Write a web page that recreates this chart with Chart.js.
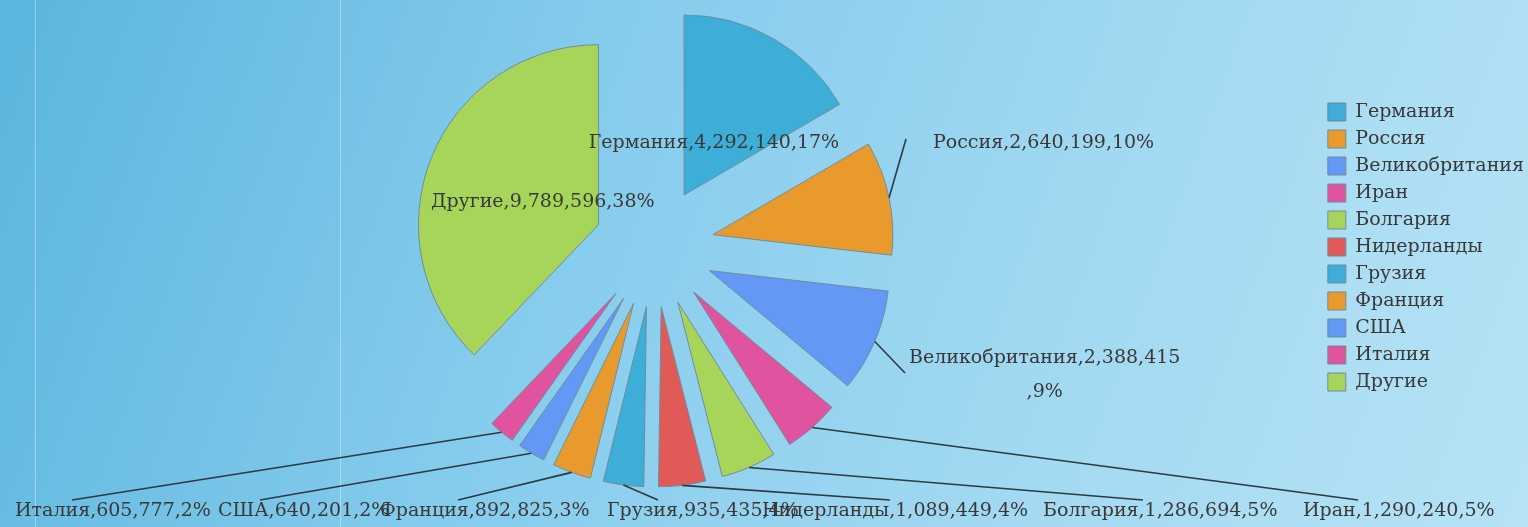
<!DOCTYPE html>
<html><head><meta charset="utf-8">
<script src="https://cdn.jsdelivr.net/npm/chart.js@4.4.0/dist/chart.umd.min.js"></script>
<style>
html,body{margin:0;padding:0;width:1528px;height:527px;overflow:hidden}
body{background:linear-gradient(110deg,#5bb5de 0%,#84cbec 35%,#a3d9f2 70%,#b6e3f6 100%);position:relative}
.vl{position:absolute;top:0;bottom:0;width:1px;background:rgba(255,255,255,0.35)}
#wrap{position:absolute;left:0;top:0;width:1528px;height:527px}
</style></head><body>
<div class="vl" style="left:35px"></div><div class="vl" style="left:340px"></div>
<div id="wrap"><canvas id="c" width="1528" height="527"></canvas></div>
<script>
const categories = ['Германия','Россия','Великобритания','Иран','Болгария','Нидерланды','Грузия','Франция','США','Италия','Другие'];
const values = [4292140, 2640199, 2388415, 1290240, 1286694, 1089449, 935435, 892825, 640201, 605777, 9789596];
const colors = ['#3daed8','#e89b2c','#6399f5','#e0539e','#a6d55a','#e05a57','#3daed8','#e89b2c','#6399f5','#e0539e','#a6d55a'];

// label placement (layout only): text anchor and leader-line end
const labelLayout = [
  {inside:true},
  {x:933, y:143, lx:906, ly:139},
  {x:909, y:358, lx:905, ly:373, wrapAfter:24},
  {x:1303, y:511, lx:1358, ly:500},
  {x:1043, y:511, lx:1143, ly:500},
  {x:762, y:511, lx:890, ly:500},
  {x:607, y:511, lx:658, ly:500},
  {x:380, y:511, lx:458, ly:500},
  {x:218, y:511, lx:260, ly:500},
  {x:15, y:511, lx:72, ly:500},
  {inside:true}
];

const RADIUS = 180;
const EXPLODE = 60;
const INSIDE_R = 120;
const FONT_FAMILY = '"DejaVu Serif"';
const LABEL_FONT = '19px ' + FONT_FAMILY;
const TEXT_COLOR = '#383838';

const total = values.reduce((a,b)=>a+b,0);
function labelText(i){
  return categories[i] + ',' + values[i].toLocaleString('en-US') + ',' + Math.round(values[i]/total*100) + '%';
}

const explodePlugin = {
  id:'explode',
  afterDatasetsUpdate(chart){
    const meta = chart.getDatasetMeta(0);
    const a = chart.chartArea;
    const cx = (a.left+a.right)/2, cy = (a.top+a.bottom)/2;
    meta.data.forEach(arc=>{
      const m = (arc.startAngle+arc.endAngle)/2;
      arc.x = cx + Math.cos(m)*EXPLODE;
      arc.y = cy + Math.sin(m)*EXPLODE;
    });
  }
};

const labelPlugin = {
  id:'pieLabels',
  afterDatasetsDraw(chart){
    const ctx = chart.ctx;
    const meta = chart.getDatasetMeta(0);
    const a = chart.chartArea;
    const cx = (a.left+a.right)/2, cy = (a.top+a.bottom)/2;
    ctx.save();
    ctx.font = LABEL_FONT;
    ctx.fillStyle = TEXT_COLOR;
    ctx.textBaseline = 'middle';
    meta.data.forEach((arc,i)=>{
      const L = labelLayout[i];
      const m = (arc.startAngle+arc.endAngle)/2;
      const txt = labelText(i);
      if (L.inside){
        ctx.textAlign = 'center';
        ctx.fillText(txt, cx + Math.cos(m)*INSIDE_R, cy + Math.sin(m)*INSIDE_R);
        return;
      }
      const sx = arc.x + Math.cos(m)*arc.outerRadius;
      const sy = arc.y + Math.sin(m)*arc.outerRadius;
      ctx.beginPath();
      ctx.moveTo(sx, sy);
      ctx.lineTo(L.lx, L.ly);
      ctx.strokeStyle = '#2c3a44';
      ctx.lineWidth = 1.6;
      ctx.stroke();
      if (L.wrapAfter){
        const l1 = txt.slice(0, L.wrapAfter), l2 = txt.slice(L.wrapAfter);
        const w1 = ctx.measureText(l1).width;
        ctx.textAlign = 'left';
        ctx.fillText(l1, L.x, L.y);
        ctx.textAlign = 'center';
        ctx.fillText(l2, L.x + w1/2, L.y + 34);
      } else {
        ctx.textAlign = 'left';
        ctx.fillText(txt, L.x, L.y);
      }
    });
    ctx.restore();
  }
};

new Chart(document.getElementById('c'), {
  type:'pie',
  data:{
    labels:categories,
    datasets:[{data:values, backgroundColor:colors, borderColor:'#6f8c9c', borderWidth:1}]
  },
  options:{
    responsive:false,
    animation:false,
    devicePixelRatio:1,
    radius:RADIUS,
    layout:{padding:{left:0, right:-6, top:0, bottom:33}},
    plugins:{
      // empty spacer strip between pie area and legend
      title:{display:true, text:' ', position:'right', weight:500, font:{size:10, lineHeight:1}, padding:{top:0.75, bottom:0.75}},
      legend:{
        position:'right',
        labels:{boxWidth:18, boxHeight:18, padding:8, color:TEXT_COLOR, font:{family:'DejaVu Serif', size:19}}
      },
      tooltip:{enabled:false}
    }
  },
  plugins:[explodePlugin, labelPlugin]
});
</script>
</body></html>
